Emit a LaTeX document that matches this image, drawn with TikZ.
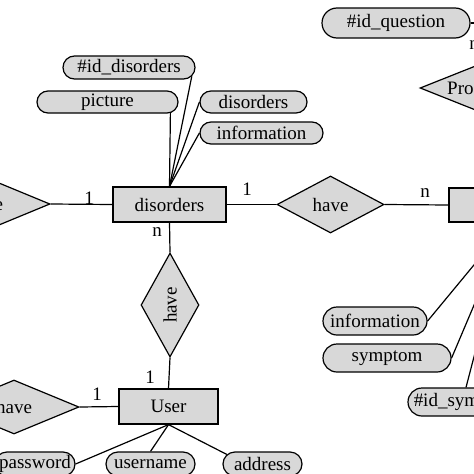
\documentclass[tikz,border=0pt]{standalone}
\usepackage{fontspec}
\setmainfont{Liberation Serif}
\usetikzlibrary{shapes.geometric,shapes.misc}
\definecolor{boxgray}{RGB}{216,216,216}
\newcommand\erfont{\fontsize{19}{22}\selectfont}
\tikzset{
  attr/.style={rounded rectangle, draw, fill=boxgray, line width=1.2pt, inner sep=0pt, font=\erfont},
  ent/.style={rectangle, draw, fill=boxgray, line width=1.2pt, inner sep=0pt, font=\erfont},
  rel/.style={diamond, draw, fill=boxgray, line width=1.2pt, inner sep=0pt, font=\erfont},
  card/.style={font=\erfont, inner sep=0pt},
  conn/.style={line width=1.2pt},
}
\begin{document}
\begin{tikzpicture}[x=1pt, y=-1pt]
\useasboundingbox (0,0) rectangle (474,474);
\clip (0,0) rectangle (474,474);

% entities
\node[ent, minimum width=113pt, minimum height=35pt] (dis) at (169.5,204.5) {disorders};
\node[ent, minimum width=99pt, minimum height=35pt] (user) at (168.5,406.5) {User};
\node[ent, minimum width=120pt, minimum height=34pt] (rent) at (509,205) {};
\coordinate (qent) at (540,23);

% relationships
\node[rel, minimum width=107pt, minimum height=57pt] (have1) at (330.5,204.5) {have};
\node[rel, rotate=90, minimum width=104pt, minimum height=58pt] (hv) at (170,305) {have};
\node[rel, minimum width=130pt, minimum height=54pt] (hl) at (14,407) {have};
\node[rel, minimum width=130pt, minimum height=54pt] (hfl) at (-15,204) {have};
\node[rel, minimum width=140pt, minimum height=56pt] (pro) at (490,88) {};
\node[card, anchor=west] (protext) at (447,88) {Pro};

% attributes
\node[attr, minimum width=148pt, minimum height=30pt] (idq) at (396,23) {\#id\_question};
\node[attr, minimum width=132pt, minimum height=23pt] (iddis) at (129,67.5) {\#id\_disorders};
\node[attr, minimum width=141pt, minimum height=22pt] (pic) at (107.5,102) {picture};
\node[attr, minimum width=107pt, minimum height=22pt] (disattr) at (253.5,102) {disorders};
\node[attr, minimum width=123pt, minimum height=22pt] (info1) at (261.5,133) {information};
\node[attr, minimum width=104pt, minimum height=28pt] (info2) at (375,321) {information};
\node[attr, minimum width=128pt, minimum height=28pt] (sym) at (387,358) {symptom};
\node[attr, minimum width=116pt, minimum height=28pt] (idsym) at (466,402) {\#id\_symptom};
\node[attr, minimum width=80pt, minimum height=24pt] (pw) at (35,464) {password};
\node[attr, minimum width=89pt, minimum height=24pt] (un) at (150.5,464) {username};
\node[attr, minimum width=79pt, minimum height=24pt] (addr) at (262.5,464) {address};

% attribute links
\draw[conn] (dis.north) -- (iddis.-8);
\draw[conn] (dis.north) -- (pic.-10);
\draw[conn] (dis.north) -- (disattr.west);
\draw[conn] (dis.north) -- (info1.west);
\draw[conn] (user.south) -- (pw.east);
\draw[conn] (user.south) -- (un.north);
\draw[conn] (user.south) -- (addr.165);
\draw[conn] (rent.south) -- (info2.east);
\draw[conn] (rent.south) -- (sym.east);
\draw[conn] (rent.south) -- (idsym.north);
\draw[conn] (idq.east) -- (qent);

% relationship links
\draw[conn] (hfl.east) -- (dis.west);
\draw[conn] (dis.east) -- (have1.west);
\draw[conn] (have1.east) -- (rent.west);
\draw[conn] (dis.south) -- (hv.east);
\draw[conn] (hv.west) -- (user.north);
\draw[conn] (hl.east) -- (user.west);

% cardinalities
\node[card] (c1) at (89,198) {1};
\node[card] (c2) at (247,189) {1};
\node[card] (c3) at (425,193) {n};
\node[card] (c4) at (157,232) {n};
\node[card] (c5) at (150,377) {1};
\node[card] (c6) at (97,394) {1};
\node[card] (c7) at (474,45) {n};
\end{tikzpicture}
\end{document}
